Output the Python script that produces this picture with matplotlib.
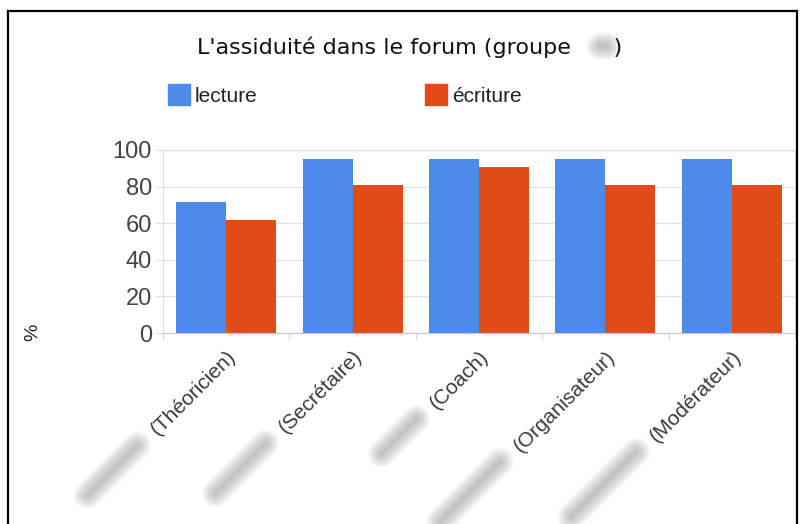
import numpy as np
import matplotlib
matplotlib.use('Agg')
import matplotlib.pyplot as plt
from matplotlib.patches import Rectangle
from matplotlib.lines import Line2D

# roles of the group members (names are masked in the output)
roles = ['(Théoricien)', '(Secrétaire)', '(Coach)', '(Organisateur)', '(Modérateur)']
series = ['lecture', 'écriture']
lecture = [71.4, 95.2, 95.2, 95.2, 95.2]
ecriture = [61.9, 81.0, 90.5, 81.0, 81.0]
y_ticks = [0, 20, 40, 60, 80, 100]

BLUE = '#4c8bec'
RED = '#e04b17'
W, H = 800, 524


def fx(px):
    return px / W


def fy(py):
    return 1 - py / H


def smear(fig, x0, y0, x1, y1, width=20, steps=12, alpha=0.04):
    # soft grey streak standing in for a masked name (display coords)
    inv = fig.transFigure.inverted()
    (a, b), (c, d) = inv.transform([(x0, y0), (x1, y1)])
    for lw in np.linspace(width, 2, steps):
        fig.add_artist(Line2D([a, c], [b, d], transform=fig.transFigure,
                              color='#707070', lw=lw, alpha=alpha,
                              solid_capstyle='round'))


def main():
    plt.rcParams['font.family'] = ['Liberation Sans', 'DejaVu Sans']
    fig = plt.figure(figsize=(W / 100, H / 100), dpi=100)
    ax = fig.add_axes([fx(163), fy(333), fx(795) - fx(163), fy(150) - fy(333)])

    x = np.arange(len(roles))
    w = 0.395
    ax.bar(x - w / 2, lecture, w, color=BLUE, zorder=2, label=series[0])
    ax.bar(x + w / 2, ecriture, w, color=RED, zorder=2, label=series[1])

    ax.set_xlim(-0.5, len(roles) - 0.5)
    ax.set_ylim(0, 100)
    ax.set_yticks(y_ticks)
    ax.yaxis.grid(True, color='#e3e3e3', lw=1, zorder=0)
    ax.set_axisbelow(True)
    for s in ax.spines.values():
        s.set_color('#dedede')
    ax.spines['bottom'].set_color('#c8c8c8')
    ax.spines['bottom'].set_zorder(3)
    ax.tick_params(axis='y', length=5, color='#dedede', labelsize=17,
                   labelcolor='#444444', pad=3)

    ax.set_xticks(x)
    ax.set_xticklabels(roles, rotation=45, ha='right', va='top',
                       rotation_mode='anchor', fontsize=15, color='#3a3a3a')
    ax.tick_params(axis='x', which='major', length=0, pad=10)
    ax.set_xticks(np.arange(len(roles) + 1) - 0.5, minor=True)
    ax.tick_params(axis='x', which='minor', length=4, color='#c8c8c8')

    fig.text(fx(33), fy(332), '%', rotation=90, fontsize=14,
             ha='center', va='center', color='#222222')

    title = fig.text(fx(410), fy(47), "L'assiduité dans le forum (groupe      )",
                     fontsize=16, ha='center', va='center', color='#111111',
                     family='DejaVu Sans')

    # legend drawn by hand, entries spread apart
    for name, color, lx in zip(series, [BLUE, RED], [168, 425]):
        fig.add_artist(Rectangle((fx(lx), fy(105)), fx(22), 21 / H,
                                 transform=fig.transFigure, color=color))
        fig.text(fx(lx + 27), fy(96), name, fontsize=15, ha='left',
                 va='center', color='#222222')

    # frame around the whole chart (bottom edge runs off the image)
    for xs, ys in [([8, 8], [530, 11]), ([8, 797], [11, 11]), ([797, 797], [11, 530])]:
        fig.add_artist(Line2D([fx(v) for v in xs], [fy(v) for v in ys],
                              transform=fig.transFigure, color='black', lw=1.6))

    fig.canvas.draw()
    r = fig.canvas.get_renderer()
    for lab, n in zip(ax.get_xticklabels(), [50, 50, 35, 60, 65]):
        bb = lab.get_window_extent(r)
        sx, sy = bb.x0, bb.y0
        smear(fig, sx - 10, sy - 6, sx - 10 - n, sy - 6 - n)
    tb = title.get_window_extent(r)
    cx, cy = tb.x1 - 20, (tb.y0 + tb.y1) / 2 + 1
    smear(fig, cx - 3, cy, cx + 3, cy, width=20, steps=10, alpha=0.05)

    fig.savefig('out.png', dpi=100, facecolor='white')


if __name__ == '__main__':
    main()
